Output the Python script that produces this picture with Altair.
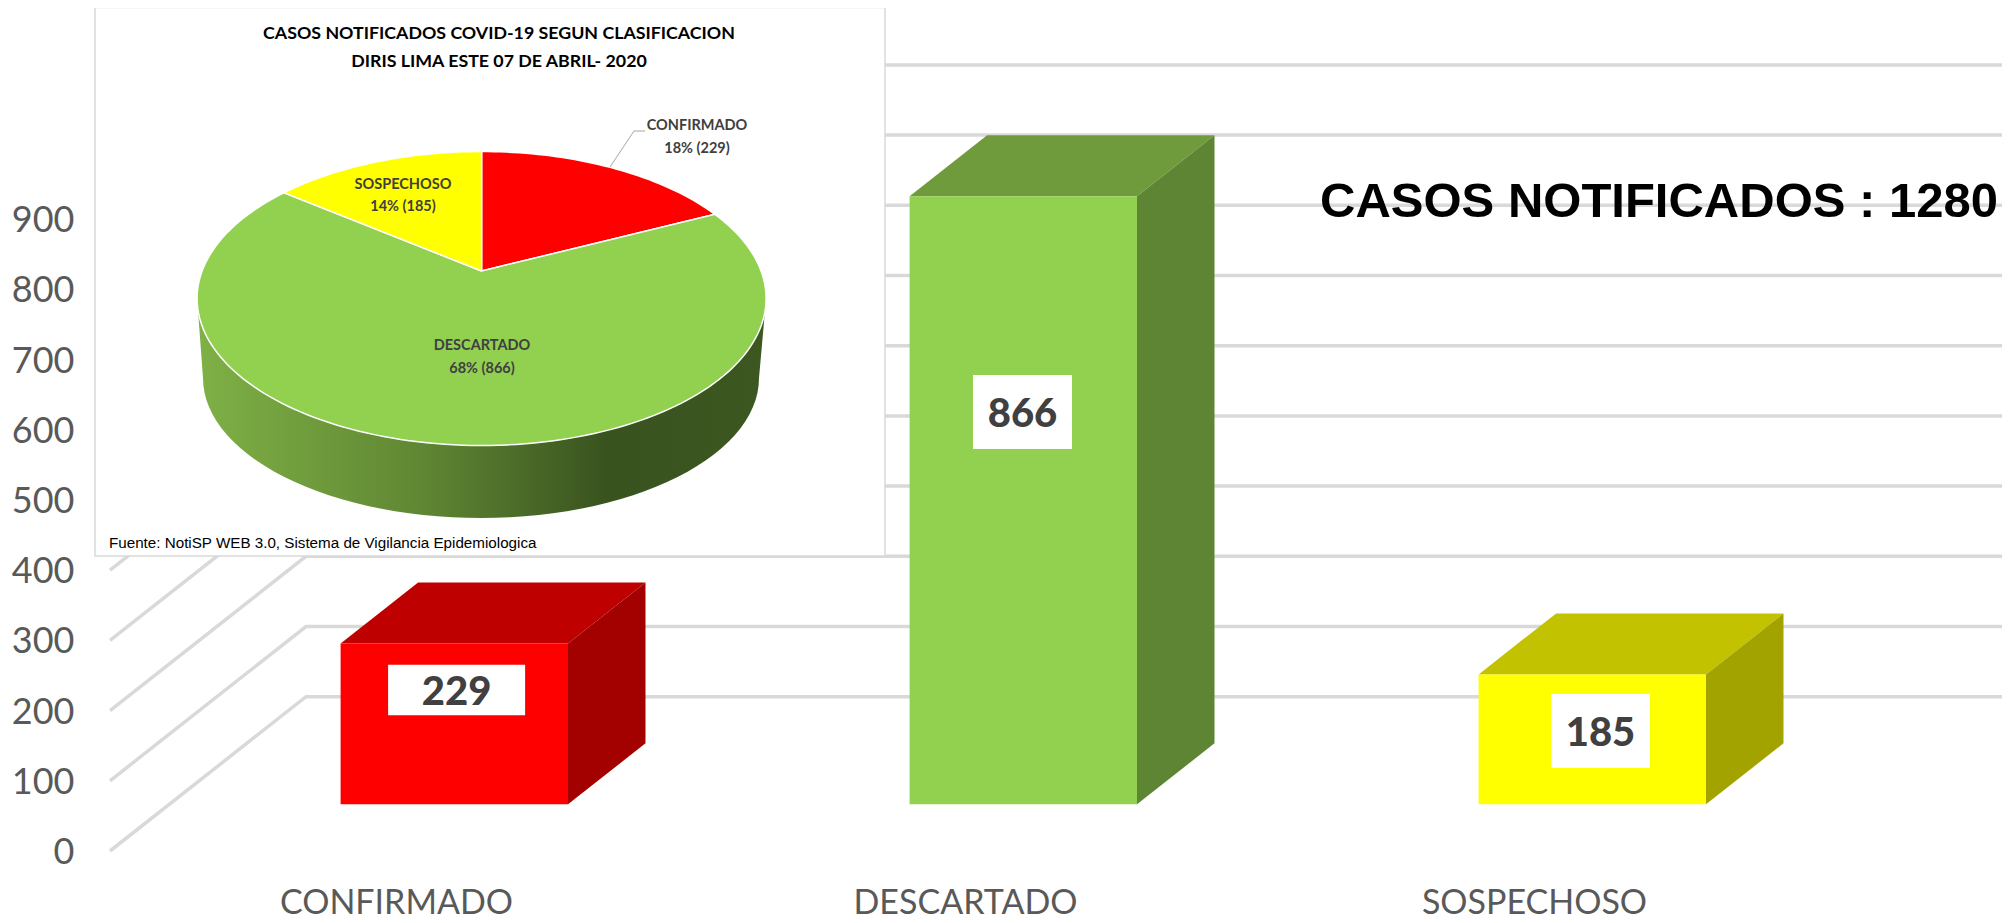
import math
import altair as alt
import pandas as pd

# ---- values ----
CATEGORIES = ["CONFIRMADO", "DESCARTADO", "SOSPECHOSO"]
CASES = [229, 866, 185]
PERCENTS = [18, 68, 14]
TOTAL = 1280
Y_TICKS = [0, 100, 200, 300, 400, 500, 600, 700, 800, 900]
TITLE_LINES = ["CASOS NOTIFICADOS COVID-19 SEGUN CLASIFICACION", "DIRIS LIMA ESTE 07 DE ABRIL- 2020"]
SOURCE = "Fuente: NotiSP WEB 3.0, Sistema de Vigilancia Epidemiologica"
BIG_TEXT = "CASOS NOTIFICADOS : 1280"

# ---- layout (page pixels) ----
PX_PER_CAT, CAT0_PX = 569.0, 111.5
PX_PER_UNIT, ZERO_PX = 0.702, 851.0
LEFT_PX, RIGHT_PX, TOP_PX, BOTTOM_PX = 85.0, 2002.0, 8.0, 880.0


def X(px):
    return (px - CAT0_PX) / PX_PER_CAT


def Y(px):
    return (ZERO_PX - px) / PX_PER_UNIT


X_DOMAIN = [X(LEFT_PX), X(RIGHT_PX)]
Y_DOMAIN = [Y(BOTTOM_PX), Y(TOP_PX)]
FLOOR_DX, FLOOR_DY = 196.0 / PX_PER_CAT, 154.3 / PX_PER_UNIT
BAR_LEFT, BAR_W = 229.1 / PX_PER_CAT, 227.4 / PX_PER_CAT
BAR_BASE = (ZERO_PX - 804.3) / PX_PER_UNIT
BAR_DX, BAR_DY = 77.5 / PX_PER_CAT, 61.0 / PX_PER_UNIT

FRONT = ["#FF0000", "#92D050", "#FFFF00"]
TOP = ["#BF0000", "#6F9B3C", "#C2C200"]
SIDE = ["#A30000", "#5E8533", "#A3A300"]
GRID = "#D9D9D9"
DARK = "#404040"
AXIS_TXT = "#595959"
LABEL_CENTER = [(456.6, 690.0), (1022.5, 412.0), (1600.5, 731.0)]
LABEL_SIZE = [(137.0, 50.7), (99.0, 74.0), (99.0, 74.0)]

label_expr = "datum.value < 1 ? '%s' : datum.value < 2 ? '%s' : '%s'" % tuple(CATEGORIES)
X_AXIS = alt.Axis(values=[0.5, 1.5, 2.5], labelExpr=label_expr, domain=False, ticks=False, grid=False,
                  labelFont="Lato", labelFontSize=34, labelColor=AXIS_TXT, labelPadding=6, labelAngle=0,
                  labelLimit=500, title=None)
Y_AXIS = alt.Axis(values=Y_TICKS, domain=False, ticks=False, grid=False, labelFont="Lato",
                  labelFontSize=36, labelColor=AXIS_TXT, labelPadding=11, labelOffset=1.5, title=None)


def xe(field="x"):
    return alt.X(f"{field}:Q", scale=alt.Scale(domain=X_DOMAIN, nice=False, zero=False), axis=X_AXIS)


def ye(field="y"):
    return alt.Y(f"{field}:Q", scale=alt.Scale(domain=Y_DOMAIN, nice=False, zero=False), axis=Y_AXIS)


# ---- grid: floor diagonal + back wall ----
grid_rows = []
for v in Y_TICKS:
    pts = [(X(110), v), (X(110) + FLOOR_DX, v + FLOOR_DY), (X_DOMAIN[1], v + FLOOR_DY)]
    grid_rows += [{"t": v, "i": i, "x": p[0], "y": p[1]} for i, p in enumerate(pts)]
grid = alt.Chart(pd.DataFrame(grid_rows)).mark_line(color=GRID, strokeWidth=3.5).encode(
    x=xe(), y=ye(), detail="t:N", order="i:Q",
)

# ---- 3D bars ----
poly = []


def add_poly(name, colour, pts):
    for i, (px, py) in enumerate(pts):
        poly.append({"poly": name, "i": i, "x": px, "y": py, "colour": colour})


for k, v in enumerate(CASES):
    l = k + BAR_LEFT
    r = l + BAR_W
    b = BAR_BASE
    t = b + v
    add_poly(f"{k}top", TOP[k], [(l, t), (r, t), (r + BAR_DX, t + BAR_DY), (l + BAR_DX, t + BAR_DY)])
    add_poly(f"{k}side", SIDE[k], [(r, b), (r + BAR_DX, b + BAR_DY), (r + BAR_DX, t + BAR_DY), (r, t)])
    add_poly(f"{k}front", FRONT[k], [(l, b), (r, b), (r, t), (l, t)])
bars = alt.Chart(pd.DataFrame(poly)).mark_line(strokeWidth=0).encode(
    x=xe(), y=ye(), detail="poly:N", order="i:Q", fill=alt.Fill("colour:N", scale=None),
)

box_df = pd.DataFrame([{"x": X(c[0] - s[0] / 2), "x2": X(c[0] + s[0] / 2), "y": Y(c[1] - s[1] / 2),
                        "y2": Y(c[1] + s[1] / 2)} for c, s in zip(LABEL_CENTER, LABEL_SIZE)])
boxes = alt.Chart(box_df).mark_rect(color="white").encode(x=xe(), x2="x2:Q", y=ye(), y2="y2:Q")
val_df = pd.DataFrame([{"x": X(c[0]), "y": Y(c[1] + 3), "t": str(v)} for c, v in zip(LABEL_CENTER, CASES)])
vals = alt.Chart(val_df).mark_text(font="Lato", fontWeight=900, fontSize=40, color=DARK, baseline="middle",
                                   align="center").encode(x=xe(), y=ye(), text="t:N")

big = alt.Chart(pd.DataFrame([{"x": X(1659.0), "y": Y(202.0), "t": BIG_TEXT}])).mark_text(
    font="Liberation Sans", fontWeight="bold", fontSize=49, color="black", baseline="middle", align="center"
).encode(x=xe(), y=ye(), text="t:N")

# ---- inset frame ----
frame = alt.Chart(pd.DataFrame([{"x": X(95), "x2": X(885), "y": Y(7.5), "y2": Y(556)}])).mark_rect(
    fill="white", stroke=GRID, strokeWidth=1.5
).encode(x=xe(), x2="x2:Q", y=ye(), y2="y2:Q")

# ---- inset pie ----
CX, RX = 481.6, 284.5
CY, RY = 298.5, 147.0
APEX_LIFT = 27.5
BOT_CX, BOT_RX, BOT_CY, BOT_RY = 481.0, 278.0, 378.0, 140.0
K = APEX_LIFT / RY
A = RX * math.sqrt(1 - K * K)


def disc(theta):
    s, c = math.sin(theta), math.cos(theta)
    d = 1 + K * c
    return CX + A * s / d, CY - (RY * c + APEX_LIFT) / d


wall_pts = [(X(CX + RX * math.cos(math.radians(a))), Y(CY + RY * math.sin(math.radians(a)))) for a in range(0, 181, 3)]
wall_pts += [(X(BOT_CX + BOT_RX * math.cos(math.radians(a))), Y(BOT_CY + BOT_RY * math.sin(math.radians(a))))
             for a in range(180, -1, -3)]
wall_df = pd.DataFrame([{"i": i, "x": p[0], "y": p[1]} for i, p in enumerate(wall_pts)])
wall = alt.Chart(wall_df).mark_line(
    strokeWidth=0,
    fill=alt.LinearGradient(gradient="linear", x1=0, x2=1, y1=0, y2=0, stops=[
        alt.GradientStop(color="#7FB146", offset=0),
        alt.GradientStop(color="#5F8633", offset=0.4),
        alt.GradientStop(color="#39531F", offset=0.72),
        alt.GradientStop(color="#3C5720", offset=1),
    ]),
).encode(x=xe(), y=ye(), order="i:Q")

slice_rows = []
start = 0.0
for k, v in enumerate(CASES):
    end = start + v / TOTAL * 2 * math.pi
    n = max(2, int((end - start) / math.radians(1.5)))
    pts = [(CX, CY - APEX_LIFT)] + [disc(start + (end - start) * j / n) for j in range(n + 1)] + [(CX, CY - APEX_LIFT)]
    slice_rows += [{"s": CATEGORIES[k], "i": i, "x": X(p[0]), "y": Y(p[1]), "colour": FRONT[k]} for i, p in enumerate(pts)]
    start = end
slices = alt.Chart(pd.DataFrame(slice_rows)).mark_line(stroke="white", strokeWidth=1.5).encode(
    x=xe(), y=ye(), detail="s:N", order="i:Q", fill=alt.Fill("colour:N", scale=None),
)

leader_df = pd.DataFrame([{"i": i, "x": X(p[0]), "y": Y(p[1])} for i, p in enumerate([(610, 167), (634, 131), (645, 131)])])
leader = alt.Chart(leader_df).mark_line(color="#A6A6A6", strokeWidth=1).encode(x=xe(), y=ye(), order="i:Q")

title_df = pd.DataFrame([{"x": X(499), "y": Y(34), "t": TITLE_LINES[0]}, {"x": X(499), "y": Y(61.5), "t": TITLE_LINES[1]}])
title = alt.Chart(title_df).mark_text(font="Lato", fontWeight="bold", fontSize=17.8, color="black",
                                      baseline="middle", align="center").encode(x=xe(), y=ye(), text="t:N")

PIE_LABEL_CENTER = [(697, 126), (482, 346), (403, 184.5)]
pie_txt = []
for k, c in enumerate(PIE_LABEL_CENTER):
    pie_txt.append({"x": X(c[0]), "y": Y(c[1]), "t": CATEGORIES[k]})
    pie_txt.append({"x": X(c[0]), "y": Y(c[1] + 22.5), "t": f"{PERCENTS[k]}% ({CASES[k]})"})
pie_labels = alt.Chart(pd.DataFrame(pie_txt)).mark_text(font="Lato", fontWeight="bold", fontSize=14.5,
                                                        color=DARK, baseline="middle", align="center").encode(
    x=xe(), y=ye(), text="t:N")
source = alt.Chart(pd.DataFrame([{"x": X(109), "y": Y(542.5), "t": SOURCE}])).mark_text(
    font="Liberation Sans", fontSize=15.2, color="black", baseline="middle", align="left"
).encode(x=xe(), y=ye(), text="t:N")

chart = alt.layer(grid, bars, boxes, vals, big, frame, wall, slices, leader, title, pie_labels, source).properties(
    width=RIGHT_PX - LEFT_PX,
    height=BOTTOM_PX - TOP_PX,
    autosize=alt.AutoSizeParams(type="none"),
    padding={"left": LEFT_PX - 8, "top": TOP_PX - 8, "right": 0, "bottom": 44},
    background="white",
).configure_view(stroke=None)

chart.save("out.html", embed_options={"renderer": "svg", "actions": False})
